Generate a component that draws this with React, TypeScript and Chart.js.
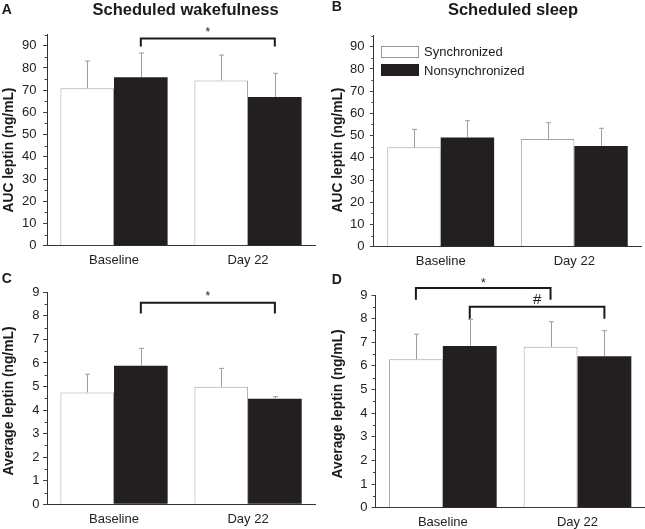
import React, { useEffect, useRef } from "react";
import { Chart, registerables } from "chart.js";

Chart.register(...registerables);

const FONT = "'Liberation Sans', Arial, Helvetica, sans-serif";
const INK = "#231f20";

// ---------- data ----------
const categories = ["Baseline", "Day 22"];
const seriesNames = ["Synchronized", "Nonsynchronized"];

// Panel A – AUC leptin, scheduled wakefulness
const aucWakeSync = [70.8, 74.4];
const aucWakeSyncErr = [12.3, 11.4];
const aucWakeNonsync = [75.8, 66.9];
const aucWakeNonsyncErr = [10.9, 10.7];

// Panel B – AUC leptin, scheduled sleep
const aucSleepSync = [44.7, 48.5];
const aucSleepSyncErr = [8.1, 7.3];
const aucSleepNonsync = [49.1, 45.3];
const aucSleepNonsyncErr = [7.6, 8.0];

// Panel C – average leptin, scheduled wakefulness
const avgWakeSync = [4.75, 4.99];
const avgWakeSyncErr = [0.77, 0.78];
const avgWakeNonsync = [5.88, 4.48];
const avgWakeNonsyncErr = [0.74, 0.09];

// Panel D – average leptin, scheduled sleep
const avgSleepSync = [6.28, 6.81];
const avgSleepSyncErr = [1.06, 1.06];
const avgSleepNonsync = [6.84, 6.41];
const avgSleepNonsyncErr = [1.13, 1.08];

// axis ranges
const aucAxis = { max: 95, major: 10, minor: 5 };
const avgAxis = { max: 9, major: 1, minor: 0.5 };

// significance brackets: [datasetIndex, categoryIndex]
type Bracket = {
  from: [number, number];
  to: [number, number];
  y: number;
  leg: number;
  label: string;
};
const bracketsA: Bracket[] = [{ from: [1, 0], to: [1, 1], y: 93.2, leg: 89.6, label: "*" }];
const bracketsB: Bracket[] = [];
const bracketsC: Bracket[] = [{ from: [1, 0], to: [1, 1], y: 8.56, leg: 8.1, label: "*" }];
const bracketsD: Bracket[] = [
  { from: [0, 0], to: [0, 1], y: 9.3, leg: 8.8, label: "*" },
  { from: [1, 0], to: [1, 1], y: 8.5, leg: 8.0, label: "#" },
];

// ---------- plugins ----------
const errorBarPlugin = {
  id: "errbars",
  afterDatasetsDraw(chart: any, _args: any, opts: any) {
    const errs: number[][] = opts.errors || [];
    const ys = chart.scales.y;
    const ctx = chart.ctx;
    ctx.save();
    ctx.strokeStyle = "#9c9c9c";
    ctx.lineWidth = 1;
    chart.data.datasets.forEach((ds: any, i: number) => {
      const meta = chart.getDatasetMeta(i);
      meta.data.forEach((bar: any, j: number) => {
        const v = ds.data[j];
        const e = (errs[i] || [])[j] || 0;
        const x = Math.round(bar.x) + 0.5;
        const yTop = ys.getPixelForValue(v + e);
        const yBar = ys.getPixelForValue(v);
        ctx.beginPath();
        ctx.moveTo(x, yBar);
        ctx.lineTo(x, yTop);
        ctx.moveTo(x - 2.5, yTop);
        ctx.lineTo(x + 2.5, yTop);
        ctx.stroke();
      });
    });
    ctx.restore();
  },
};

const bracketPlugin = {
  id: "brackets",
  afterDraw(chart: any, _args: any, opts: any) {
    const list: Bracket[] = opts.items || [];
    const ys = chart.scales.y;
    const ctx = chart.ctx;
    ctx.save();
    list.forEach((b) => {
      const x1 = chart.getDatasetMeta(b.from[0]).data[b.from[1]].x;
      const x2 = chart.getDatasetMeta(b.to[0]).data[b.to[1]].x;
      const yT = ys.getPixelForValue(b.y);
      const yL = ys.getPixelForValue(b.leg);
      ctx.strokeStyle = "#1a1a1a";
      ctx.lineWidth = 2;
      ctx.beginPath();
      ctx.moveTo(x1, yL);
      ctx.lineTo(x1, yT);
      ctx.lineTo(x2, yT);
      ctx.lineTo(x2, yL);
      ctx.stroke();
      ctx.fillStyle = "#222";
      ctx.textAlign = "center";
      ctx.textBaseline = "alphabetic";
      if (b.label === "#") {
        ctx.font = `15px ${FONT}`;
        ctx.fillText(b.label, (x1 + x2) / 2, yT - 3);
      } else {
        ctx.font = `12px ${FONT}`;
        ctx.fillText(b.label, (x1 + x2) / 2, yT - (opts.starGap ?? 3));
      }
    });
    ctx.restore();
  },
};

const minorTickPlugin = {
  id: "minorticks",
  afterDraw(chart: any, _args: any, opts: any) {
    const ys = chart.scales.y;
    const ctx = chart.ctx;
    const x = chart.chartArea.left;
    ctx.save();
    ctx.strokeStyle = "#444";
    ctx.lineWidth = 1;
    const step = opts.minor;
    const major = opts.major;
    for (let k = 1; k * step <= ys.max + 1e-9; k++) {
      const v = k * step;
      if (Math.abs(v / major - Math.round(v / major)) < 1e-6) continue;
      const y = Math.round(ys.getPixelForValue(v)) + 0.5;
      ctx.beginPath();
      ctx.moveTo(x - 2.5, y);
      ctx.lineTo(x, y);
      ctx.stroke();
    }
    ctx.restore();
  },
};

// ---------- panel ----------
type PanelProps = {
  left: number;
  top: number;
  w: number;
  h: number;
  yW: number;
  xH: number;
  padTop: number;
  padRight: number;
  tickPad: number;
  sync: number[];
  syncErr: number[];
  nonsync: number[];
  nonsyncErr: number[];
  axis: { max: number; major: number; minor: number };
  brackets: Bracket[];
  starGap: number;
};

function Panel(p: PanelProps) {
  const ref = useRef<HTMLCanvasElement>(null);
  useEffect(() => {
    const tickFont = { family: FONT, size: 13 };
    const chart = new Chart(ref.current as HTMLCanvasElement, {
      type: "bar",
      data: {
        labels: categories,
        datasets: [
          {
            label: seriesNames[0],
            data: p.sync,
            backgroundColor: "#ffffff",
            borderColor: "#a5a5a5",
            borderWidth: 1,
            categoryPercentage: 0.8,
            barPercentage: 1.0,
          },
          {
            label: seriesNames[1],
            data: p.nonsync,
            backgroundColor: INK,
            borderColor: INK,
            borderWidth: 0,
            categoryPercentage: 0.8,
            barPercentage: 1.0,
          },
        ],
      },
      options: {
        animation: false,
        responsive: false,
        maintainAspectRatio: false,
        events: [],
        layout: { padding: { top: p.padTop, right: p.padRight, left: 0, bottom: 0 } },
        plugins: {
          legend: { display: false },
          tooltip: { enabled: false },
          title: { display: false },
          errbars: { errors: [p.syncErr, p.nonsyncErr] },
          brackets: { items: p.brackets, starGap: p.starGap },
          minorticks: { minor: p.axis.minor, major: p.axis.major },
        } as any,
        scales: {
          x: {
            type: "category",
            grid: { display: false, drawTicks: false },
            border: { display: true, color: "#333", width: 1 },
            ticks: { padding: 7, color: "#222", font: tickFont },
            afterFit: (s: any) => {
              s.height = p.xH;
            },
          } as any,
          y: {
            min: 0,
            max: p.axis.max,
            grid: { drawOnChartArea: false, drawTicks: true, tickLength: 4, color: "#444" },
            border: { display: true, color: "#333", width: 1 },
            ticks: {
              stepSize: p.axis.major,
              includeBounds: false,
              padding: p.tickPad,
              color: "#222",
              font: tickFont,
            },
            afterFit: (s: any) => {
              s.width = p.yW;
            },
          } as any,
        },
      },
      plugins: [errorBarPlugin, bracketPlugin, minorTickPlugin],
    });
    return () => chart.destroy();
  }, []);
  return (
    <canvas
      ref={ref}
      width={p.w}
      height={p.h}
      style={{ position: "absolute", left: p.left, top: p.top, width: p.w, height: p.h }}
    />
  );
}

// text helper: positioned by baseline
function Txt(props: {
  x: number;
  base: number;
  size: number;
  bold?: boolean;
  center?: boolean;
  children: React.ReactNode;
}) {
  const { x, base, size, bold, center } = props;
  return (
    <div
      style={{
        position: "absolute",
        left: x,
        top: base - 0.8465 * size,
        fontFamily: FONT,
        fontSize: size,
        lineHeight: 1,
        fontWeight: bold ? 700 : 400,
        color: "#1a1a1a",
        whiteSpace: "nowrap",
        transform: center ? "translateX(-50%)" : undefined,
      }}
    >
      {props.children}
    </div>
  );
}

function YTitle(props: { cx: number; cy: number; text: string }) {
  return (
    <div
      style={{
        position: "absolute",
        left: props.cx,
        top: props.cy,
        fontFamily: FONT,
        fontSize: 13.8,
        lineHeight: 1,
        fontWeight: 700,
        color: "#1a1a1a",
        whiteSpace: "nowrap",
        transform: "translate(-50%, -50%) rotate(-90deg)",
      }}
    >
      {props.text}
    </div>
  );
}

export default function App() {
  useEffect(() => {
    document.body.style.margin = "0";
  }, []);
  return (
    <div
      style={{
        position: "fixed",
        left: 0,
        top: 0,
        width: 645,
        height: 529,
        background: "#ffffff",
        overflow: "hidden",
      }}
    >
      <Panel
        left={0}
        top={0}
        w={322}
        h={270}
        yW={47}
        xH={24.3}
        padTop={34.6}
        padRight={7}
        tickPad={6.5}
        sync={aucWakeSync}
        syncErr={aucWakeSyncErr}
        nonsync={aucWakeNonsync}
        nonsyncErr={aucWakeNonsyncErr}
        axis={aucAxis}
        brackets={bracketsA}
        starGap={3}
      />
      <Panel
        left={322}
        top={0}
        w={323}
        h={270}
        yW={51.9}
        xH={23.3}
        padTop={35.6}
        padRight={3.9}
        tickPad={5.5}
        sync={aucSleepSync}
        syncErr={aucSleepSyncErr}
        nonsync={aucSleepNonsync}
        nonsyncErr={aucSleepNonsyncErr}
        axis={aucAxis}
        brackets={bracketsB}
        starGap={3}
      />
      <Panel
        left={0}
        top={266}
        w={322}
        h={263}
        yW={47}
        xH={24.7}
        padTop={26.3}
        padRight={6.9}
        tickPad={3.5}
        sync={avgWakeSync}
        syncErr={avgWakeSyncErr}
        nonsync={avgWakeNonsync}
        nonsyncErr={avgWakeNonsyncErr}
        axis={avgAxis}
        brackets={bracketsC}
        starGap={3}
      />
      <Panel
        left={322}
        top={266}
        w={323}
        h={263}
        yW={53.5}
        xH={21.3}
        padTop={29}
        padRight={0.2}
        tickPad={4}
        sync={avgSleepSync}
        syncErr={avgSleepSyncErr}
        nonsync={avgSleepNonsync}
        nonsyncErr={avgSleepNonsyncErr}
        axis={avgAxis}
        brackets={bracketsD}
        starGap={1}
      />

      {/* panel letters */}
      <Txt x={1.7} base={14} size={14} bold>A</Txt>
      <Txt x={331.7} base={10.7} size={14} bold>B</Txt>
      <Txt x={1.7} base={282.7} size={14} bold>C</Txt>
      <Txt x={331.7} base={284.3} size={14} bold>D</Txt>

      {/* titles */}
      <Txt x={185.6} base={15} size={16.5} bold center>Scheduled wakefulness</Txt>
      <Txt x={513} base={15} size={16.5} bold center>Scheduled sleep</Txt>

      {/* y-axis titles */}
      <YTitle cx={9} cy={150} text="AUC leptin (ng/mL)" />
      <YTitle cx={338} cy={150} text="AUC leptin (ng/mL)" />
      <YTitle cx={8.8} cy={400.5} text="Average leptin (ng/mL)" />
      <YTitle cx={338} cy={404} text="Average leptin (ng/mL)" />

      {/* legend (panel B) */}
      <div
        style={{
          position: "absolute",
          left: 381,
          top: 45.5,
          width: 38,
          height: 12,
          boxSizing: "border-box",
          border: "1px solid #999",
          background: "#fff",
        }}
      />
      <div
        style={{
          position: "absolute",
          left: 381,
          top: 63.7,
          width: 38,
          height: 12.3,
          boxSizing: "border-box",
          background: INK,
        }}
      />
      <Txt x={424} base={56.3} size={13}>{seriesNames[0]}</Txt>
      <Txt x={424} base={74.8} size={13}>{seriesNames[1]}</Txt>
    </div>
  );
}
